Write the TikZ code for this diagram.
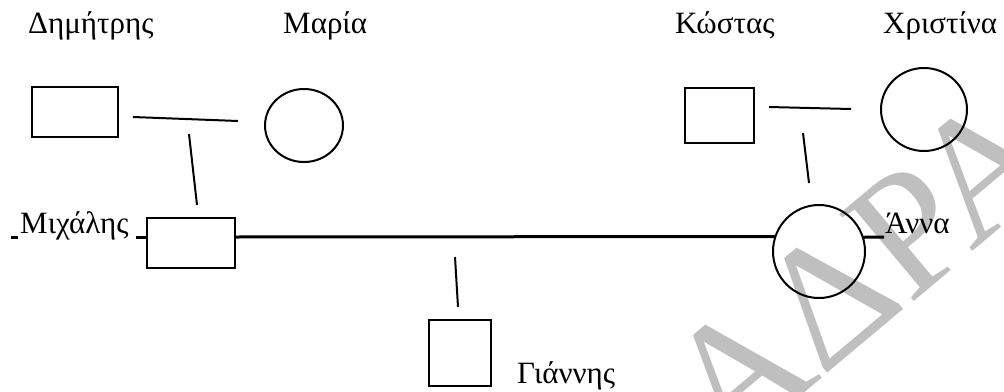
\documentclass[tikz,border=0pt]{standalone}
\usepackage{fontspec}
\setmainfont{Liberation Serif}
\usetikzlibrary{shapes.geometric}
\begin{document}
\begin{tikzpicture}[x=1pt,y=-1pt,
  lbl/.style={anchor=base west,inner sep=0pt,font=\fontsize{31}{34}\selectfont},
  boxshape/.style={draw,line width=2pt,rectangle,inner sep=0pt,outer sep=0pt},
  roundshape/.style={draw,line width=2pt,ellipse,inner sep=0pt,outer sep=0pt},
  link/.style={line width=2pt},
  mainlink/.style={line width=3pt},
  wm/.style={rotate=40,anchor=base west,inner sep=0pt,text=gray!50,font=\fontsize{175}{175}\selectfont}
]
\useasboundingbox (0,0) rectangle (1004,391);
% watermark
\node[wm] (wmark) at (726,459) {ΑΔΡΑ};
% labels
\node[lbl] (tDim) at (28,33) {Δημήτρης};
\node[lbl] (tMar) at (283,33) {Μαρία};
\node[lbl] (tKos) at (675,33) {Κώστας};
\node[lbl] (tChr) at (883,33) {Χριστίνα};
\node[lbl] (tMic) at (20,233) {Μιχάλης};
\node[lbl] (tAnn) at (885,233) {Άννα};
\node[lbl] (tGia) at (517,383) {Γιάννης};
% people
\node[boxshape,minimum width=86pt,minimum height=50pt] (dim) at (75,112) {};
\node[roundshape,minimum width=78pt,minimum height=73pt] (mar) at (304,125.5) {};
\node[boxshape,minimum width=69pt,minimum height=55pt] (kos) at (719.5,115.5) {};
\node[roundshape,minimum width=86pt,minimum height=83pt] (chr) at (924,109.5) {};
\node[boxshape,minimum width=88pt,minimum height=50pt] (mic) at (191,243) {};
\node[roundshape,minimum width=92pt,minimum height=93pt] (ann) at (819,251.5) {};
\node[boxshape,minimum width=62pt,minimum height=66pt] (gia) at (460,353) {};
% free line ends
\coordinate (dmA) at (133,117);
\coordinate (dmB) at (238,121);
\coordinate (dmC) at (189,134);
\coordinate (dmD) at (197,205);
\coordinate (kcA) at (769,107);
\coordinate (kcB) at (851,109);
\coordinate (kcC) at (803,133);
\coordinate (kcD) at (809,183);
\coordinate (chA) at (455,257);
\coordinate (chB) at (458,307);
\coordinate (mL) at (11,237);
\coordinate (mR) at (884,237);
% connectors
\draw[link] (dmA) -- (dmB);
\draw[link] (dmC) -- (dmD);
\draw[link] (kcA) -- (kcB);
\draw[link] (kcC) -- (kcD);
\draw[link] (chA) -- (chB);
\draw[mainlink] (mL) -- ([xshift=-2pt]mL -| tMic.west);
\draw[mainlink] ([xshift=7pt]mL -| tMic.east) -- (mL -| mic.west);
\draw[mainlink] (mL -| mic.east) -- (ann.161.8);
\draw[mainlink] (ann.18.2) -- (mR);
\end{tikzpicture}
\end{document}
